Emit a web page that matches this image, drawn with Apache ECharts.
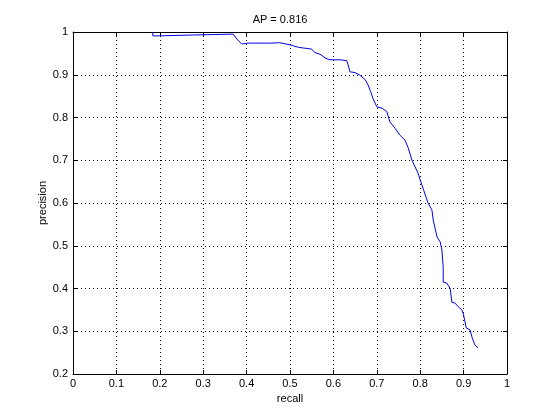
<!DOCTYPE html>
<html>
<head>
<meta charset="utf-8">
<script src="https://cdn.jsdelivr.net/npm/echarts@6/dist/echarts.min.js"></script>
<style>html,body{margin:0;padding:0;background:#fff;}#c{width:560px;height:420px;}</style>
</head>
<body>
<div id="c"></div>
<script>
const titleText = 'AP = 0.816';
const recall = [0.184,0.184,0.2,0.2,0.276,0.276,0.369,0.378,0.389,0.403,0.458,0.458,0.476,0.476,0.5,0.52,0.55,0.557,0.569,0.583,0.592,0.615,0.631,0.634,0.638,0.65,0.661,0.673,0.68,0.686,0.691,0.70,0.712,0.723,0.730,0.742,0.753,0.765,0.772,0.781,0.795,0.80,0.808,0.818,0.827,0.830,0.834,0.839,0.846,0.850,0.853,0.853,0.861,0.869,0.873,0.880,0.888,0.896,0.90,0.906,0.915,0.920,0.926,0.933];
const precision = [1.0,0.991,0.991,0.993,0.993,0.995,0.995,0.983,0.972,0.974,0.974,0.975,0.975,0.972,0.970,0.964,0.960,0.952,0.948,0.938,0.935,0.935,0.933,0.923,0.907,0.905,0.899,0.889,0.876,0.86,0.845,0.825,0.822,0.814,0.79,0.775,0.759,0.747,0.73,0.70,0.67,0.654,0.630,0.60,0.584,0.560,0.542,0.52,0.509,0.49,0.45,0.415,0.413,0.40,0.368,0.366,0.357,0.350,0.338,0.308,0.303,0.284,0.268,0.261];
const xName = 'recall';
const yName = 'precision';

const font = 'Liberation Sans, Arial, Helvetica, sans-serif';
const chart = echarts.init(document.getElementById('c'), null, {renderer: 'canvas'});
const lbl = {color: '#000', fontSize: 11, fontFamily: font};
chart.setOption({
  animation: false,
  backgroundColor: '#fff',
  title: {text: titleText, left: 'center', top: 9, textStyle: {fontSize: 11, fontWeight: 'normal', color: '#000', fontFamily: font}},
  grid: {left: 73, right: 53, top: 32, bottom: 46, containLabel: false},
  xAxis: [{
    type: 'value', min: 0, max: 1, interval: 0.1, position: 'bottom',
    name: xName, nameLocation: 'middle', nameGap: 19, nameMoveOverlap: false, nameTextStyle: lbl,
    axisLine: {show: true, lineStyle: {color: '#000', width: 1}},
    axisTick: {show: true, inside: true, length: 4, lineStyle: {color: '#000'}},
    axisLabel: Object.assign({margin: 4}, lbl),
    splitLine: {show: true, lineStyle: {color: '#000', type: [1, 3], width: 1}}
  }, {
    type: 'value', min: 0, max: 1, interval: 0.1, position: 'top',
    axisLine: {show: true, onZero: false, lineStyle: {color: '#000', width: 1}},
    axisTick: {show: true, inside: true, length: 4, lineStyle: {color: '#000'}},
    axisLabel: {show: false}, splitLine: {show: false}
  }],
  yAxis: [{
    type: 'value', min: 0.2, max: 1, interval: 0.1, position: 'left',
    name: yName, nameLocation: 'middle', nameGap: 25, nameMoveOverlap: false, nameTextStyle: lbl,
    axisLine: {show: true, onZero: false, lineStyle: {color: '#000', width: 1}},
    axisTick: {show: true, inside: true, length: 4, lineStyle: {color: '#000'}},
    axisLabel: Object.assign({margin: 5}, lbl),
    splitLine: {show: true, lineStyle: {color: '#000', type: [1, 3], width: 1}}
  }, {
    type: 'value', min: 0.2, max: 1, interval: 0.1, position: 'right',
    axisLine: {show: true, onZero: false, lineStyle: {color: '#000', width: 1}},
    axisTick: {show: true, inside: true, length: 4, lineStyle: {color: '#000'}},
    axisLabel: {show: false}, splitLine: {show: false}
  }],
  series: [{
    type: 'line', xAxisIndex: 0, yAxisIndex: 0,
    data: recall.map((r, i) => [r, precision[i]]),
    showSymbol: false, symbol: 'none',
    lineStyle: {color: '#0000e6', width: 1},
    itemStyle: {color: '#0000e6'}
  }]
});
</script>
</body>
</html>
